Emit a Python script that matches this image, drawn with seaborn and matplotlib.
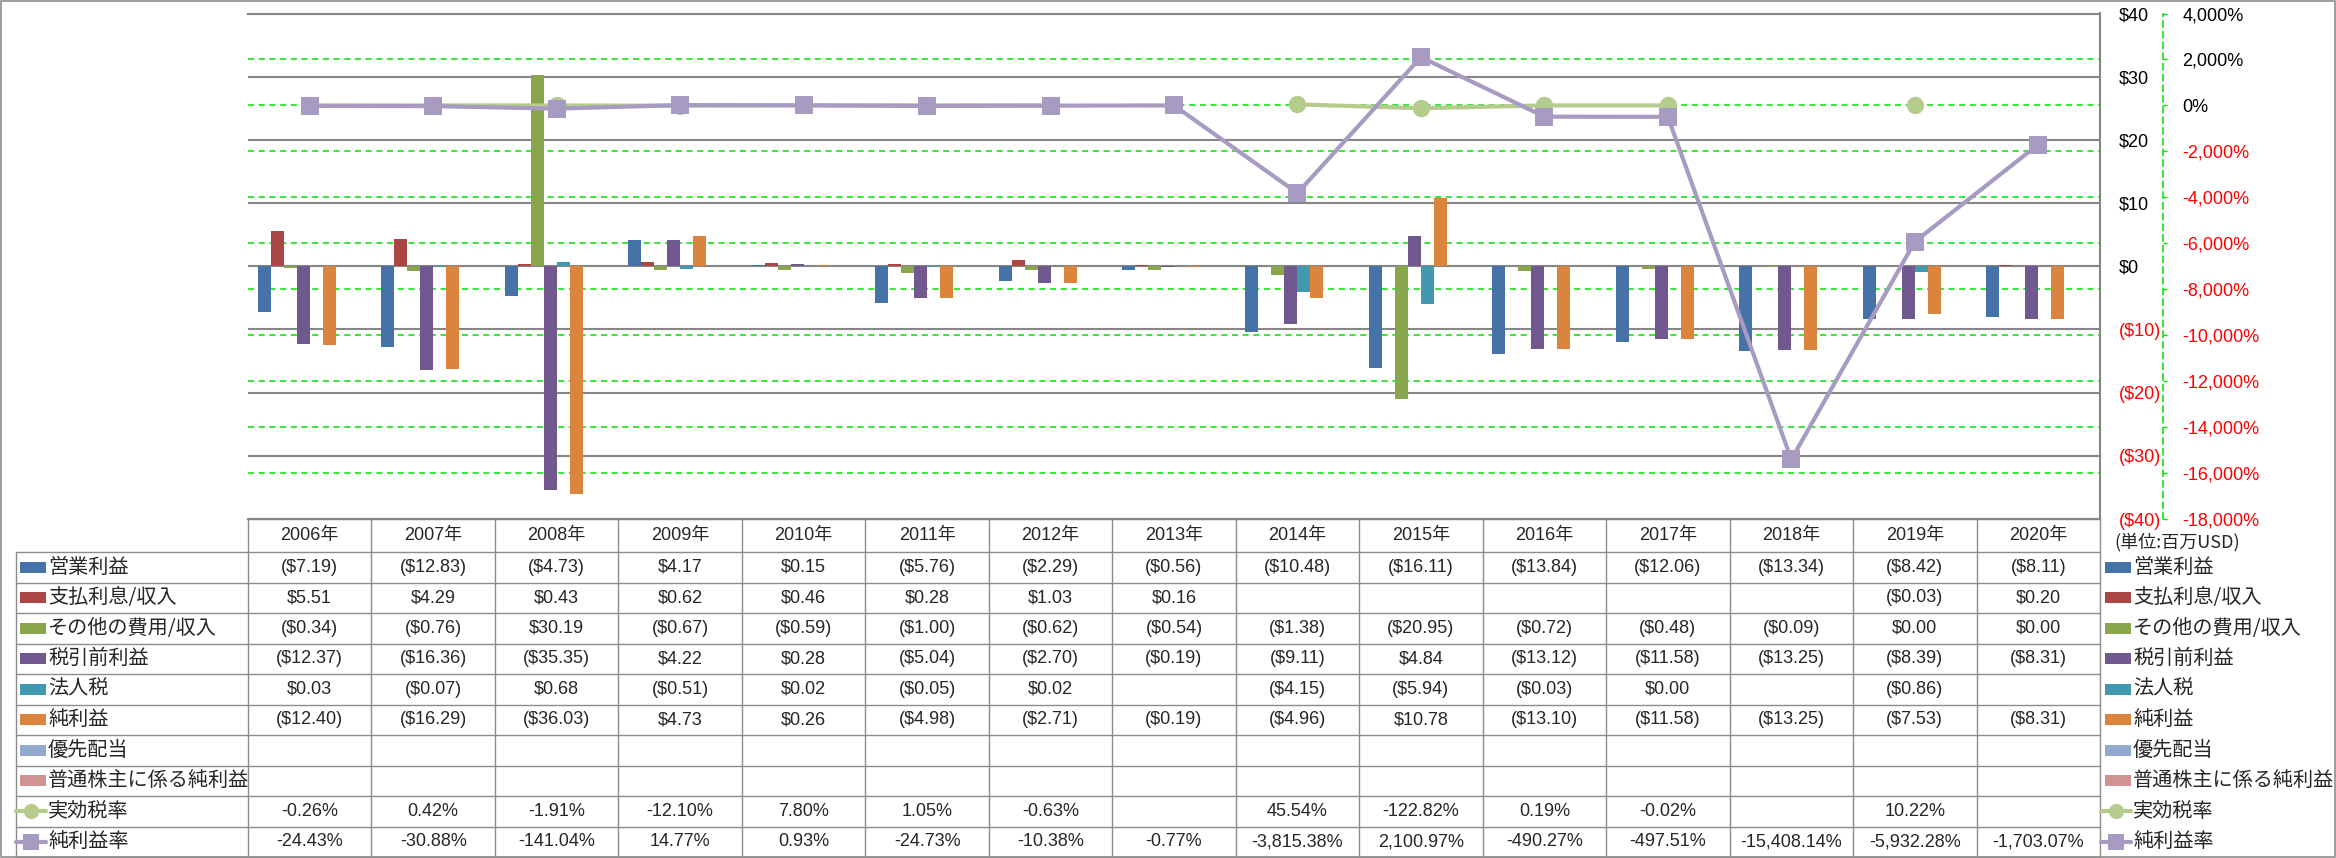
import numpy as np
import pandas as pd
import matplotlib
matplotlib.use("Agg")
import matplotlib.pyplot as plt
import seaborn as sns
from matplotlib.lines import Line2D
from matplotlib.patches import Rectangle

nan = np.nan

# ---------------- data ----------------
years = ["2006年", "2007年", "2008年", "2009年", "2010年", "2011年", "2012年", "2013年",
         "2014年", "2015年", "2016年", "2017年", "2018年", "2019年", "2020年"]

operating_income = [-7.19, -12.83, -4.73, 4.17, 0.15, -5.76, -2.29, -0.56,
                    -10.48, -16.11, -13.84, -12.06, -13.34, -8.42, -8.11]
interest = [5.51, 4.29, 0.43, 0.62, 0.46, 0.28, 1.03, 0.16,
            nan, nan, nan, nan, nan, -0.03, 0.20]
other_exp = [-0.34, -0.76, 30.19, -0.67, -0.59, -1.00, -0.62, -0.54,
             -1.38, -20.95, -0.72, -0.48, -0.09, 0.00, 0.00]
pretax = [-12.37, -16.36, -35.35, 4.22, 0.28, -5.04, -2.70, -0.19,
          -9.11, 4.84, -13.12, -11.58, -13.25, -8.39, -8.31]
income_tax = [0.03, -0.07, 0.68, -0.51, 0.02, -0.05, 0.02, nan,
              -4.15, -5.94, -0.03, 0.00, nan, -0.86, nan]
net_income = [-12.40, -16.29, -36.03, 4.73, 0.26, -4.98, -2.71, -0.19,
              -4.96, 10.78, -13.10, -11.58, -13.25, -7.53, -8.31]
preferred_div = [nan, nan, nan, nan, nan, nan, nan, nan,
                 nan, nan, nan, nan, nan, nan, nan]
common_net = [nan, nan, nan, nan, nan, nan, nan, nan,
              nan, nan, nan, nan, nan, nan, nan]
eff_tax_rate = [-0.26, 0.42, -1.91, -12.10, 7.80, 1.05, -0.63, nan,
                45.54, -122.82, 0.19, -0.02, nan, 10.22, nan]
net_margin = [-24.43, -30.88, -141.04, 14.77, 0.93, -24.73, -10.38, -0.77,
              -3815.38, 2100.97, -490.27, -497.51, -15408.14, -5932.28, -1703.07]

bar_names = ["営業利益", "支払利息/収入", "その他の費用/収入", "税引前利益",
             "法人税", "純利益", "優先配当", "普通株主に係る純利益"]
bar_values = [operating_income, interest, other_exp, pretax,
              income_tax, net_income, preferred_div, common_net]
bar_colors = ["#4572A7", "#AA4643", "#89A54E", "#71588F",
              "#4198AF", "#DB843D", "#93A9CF", "#D19392"]
line_names = ["実効税率", "純利益率"]
line_values = [eff_tax_rate, net_margin]
line_colors = ["#B5CC8E", "#A89BC2"]
line_markers = ["o", "s"]

usd_ticks = [-40, -30, -20, -10, 0, 10, 20, 30, 40]
pct_ticks = [-18000, -16000, -14000, -12000, -10000, -8000, -6000, -4000,
             -2000, 0, 2000, 4000]
unit_label = "(単位:百万USD)"

# ---------------- helpers ----------------
def fmt_money(v):
    if v is None or (isinstance(v, float) and np.isnan(v)):
        return ""
    s = f"${abs(v):,.2f}" if abs(v) >= 0.005 else "$0.00"
    return f"({s})" if v < -0.004 else s


def fmt_pct(v):
    if v is None or (isinstance(v, float) and np.isnan(v)):
        return ""
    return f"{v:,.2f}%"


def fmt_usd_tick(v):
    return f"(${abs(v)})" if v < 0 else f"${v}"


def fmt_pct_tick(v):
    return f"{v:,}%"


# ---------------- figure ----------------
sns.set_theme(style="white")
NUM_FONT = ["Liberation Sans", "Noto Sans CJK JP"]
JP_FONT = ["Noto Sans CJK JP", "DejaVu Sans"]
plt.rcParams["font.family"] = NUM_FONT

W, H = 2336, 858
DPI = 100
fig = plt.figure(figsize=(W / DPI, H / DPI), dpi=DPI, facecolor="white")

L, R, T, B = 248, 2100, 13.5, 519
rect = [L / W, 1 - B / H, (R - L) / W, (B - T) / H]

GRID_GRAY = "#868686"
GREEN = "#00E000"
RED = "#FF0000"
TABLE_GRAY = "#8C8C8C"
NUM_SIZE = 13
TICK_SIZE = 13
JP_SIZE = 14.5

# bottom axes: percent scale, green dashed grid, right axis
ax2 = fig.add_axes(rect)
ax2.set_zorder(1)
ax2.set_facecolor("white")
ax2.set_xlim(-0.5, 14.5)
ax2.set_ylim(-18000, 4000)
ax2.set_yticks(pct_ticks)
ax2.set_yticklabels([fmt_pct_tick(v) for v in pct_ticks])
ax2.yaxis.tick_right()
ax2.grid(axis="y", color=GREEN, linestyle=(0, (4, 3)), linewidth=1.1)
ax2.grid(axis="x", visible=False)
ax2.set_xticks([])
for s in ["left", "top", "bottom"]:
    ax2.spines[s].set_visible(False)
ax2.spines["right"].set_position(("outward", 63 * 72 / DPI))
ax2.spines["right"].set_color(GREEN)
ax2.spines["right"].set_linestyle((0, (4, 3)))
ax2.spines["right"].set_linewidth(1.1)
ax2.tick_params(axis="y", which="both", direction="out", length=3, width=1.0,
                color=GREEN, pad=11, labelsize=TICK_SIZE, right=True, left=False)
for v, lab in zip(pct_ticks, ax2.get_yticklabels()):
    lab.set_color(RED if v < 0 else "black")

# middle axes: bars (USD scale)
ax1 = fig.add_axes(rect)
ax1.set_zorder(2)
ax1.patch.set_visible(False)

rows = []
for name, vals in zip(bar_names, bar_values):
    for yr, v in zip(years, vals):
        rows.append({"year": yr, "series": name, "value": v})
df_bars = pd.DataFrame(rows)

sns.barplot(data=df_bars, x="year", y="value", hue="series",
            order=years, hue_order=bar_names,
            palette=dict(zip(bar_names, bar_colors)),
            width=104 / 123.47, gap=0, saturation=1, errorbar=None,
            linewidth=0, legend=False, ax=ax1)

ax1.set_xlim(-0.5, 14.5)
ax1.set_ylim(-40, 40)
ax1.set_yticks(usd_ticks)
ax1.set_yticklabels([fmt_usd_tick(v) for v in usd_ticks])
ax1.yaxis.tick_right()
ax1.tick_params(axis="y", length=0, pad=19 * 72 / DPI, labelsize=TICK_SIZE,
                right=True, left=False)
for v, lab in zip(usd_ticks, ax1.get_yticklabels()):
    lab.set_color(RED if v < 0 else "black")
ax1.set_axisbelow(True)
ax1.grid(axis="y", color=GRID_GRAY, linewidth=1.5)
ax1.grid(axis="x", visible=False)
ax1.tick_params(axis="x", length=0, labelbottom=False)
ax1.set_xlabel("")
ax1.set_ylabel("")
ax1.spines["left"].set_visible(False)
for s in ["top", "right", "bottom"]:
    ax1.spines[s].set_visible(True)
    ax1.spines[s].set_color(GRID_GRAY)
    ax1.spines[s].set_linewidth(1.5)

# top axes: lines (percent scale)
ax3 = fig.add_axes(rect)
ax3.set_zorder(3)
ax3.patch.set_visible(False)
xpos = np.arange(len(years))
for name, vals, col, mk in zip(line_names, line_values, line_colors, line_markers):
    arr = np.array(vals, dtype=float)
    seg = np.cumsum(np.isnan(arr))
    dfl = pd.DataFrame({"x": xpos, "y": arr, "seg": seg}).dropna()
    sns.lineplot(data=dfl, x="x", y="y", units="seg", estimator=None,
                 color=col, linewidth=3.0, marker=mk, markersize=12.5,
                 markeredgewidth=0, markerfacecolor=col, sort=True,
                 legend=False, ax=ax3)
ax3.set_xlim(-0.5, 14.5)
ax3.set_ylim(-18000, 4000)
ax3.axis("off")

# ---------------- data table ----------------
def fx(px):
    return px / W


def fy(py):
    return 1 - py / H


def hline(x0, x1, y, color=TABLE_GRAY, lw=1.0):
    fig.add_artist(Line2D([fx(x0), fx(x1)], [fy(y), fy(y)],
                          transform=fig.transFigure, color=color, lw=lw))


def vline(x, y0, y1, color=TABLE_GRAY, lw=1.0):
    fig.add_artist(Line2D([fx(x), fx(x)], [fy(y0), fy(y1)],
                          transform=fig.transFigure, color=color, lw=lw))


colw = (R - L) / len(years)
head_top, head_bot = 519, 552
row_h = 30.5
all_names = bar_names + line_names
n_rows = len(all_names)
table_bot = head_bot + n_rows * row_h

hline(L, R, head_top)
for k in range(n_rows + 1):
    hline(16, R, head_bot + k * row_h)
vline(16, head_bot, table_bot)
for j in range(len(years) + 1):
    vline(L + j * colw, head_top, table_bot)

for j, yr in enumerate(years):
    fig.text(fx(L + (j + 0.5) * colw), fy((head_top + head_bot) / 2), yr,
             ha="center", va="center", fontsize=NUM_SIZE, family=NUM_FONT)

row_texts = [[fmt_money(v) for v in vals] for vals in bar_values] + \
            [[fmt_pct(v) for v in vals] for vals in line_values]
for i, texts in enumerate(row_texts):
    yc = head_bot + (i + 0.5) * row_h
    for j, t in enumerate(texts):
        if t:
            fig.text(fx(L + (j + 0.5) * colw), fy(yc), t, ha="center",
                     va="center", fontsize=NUM_SIZE, family=NUM_FONT)


def legend_key(x0, yc, idx):
    # x0: left of key (pixels)
    if idx < len(bar_names):
        fig.add_artist(Rectangle((fx(x0), fy(yc + 5.5)), 26 / W, 11 / H,
                                 transform=fig.transFigure,
                                 facecolor=bar_colors[idx], edgecolor="none"))
    else:
        li = idx - len(bar_names)
        fig.add_artist(Line2D([fx(x0 - 4), fx(x0 + 26)], [fy(yc), fy(yc)],
                              transform=fig.transFigure,
                              color=line_colors[li], lw=3.0))
        fig.add_artist(Line2D([fx(x0 + 11)], [fy(yc)],
                              transform=fig.transFigure, linestyle="none",
                              marker=line_markers[li], markersize=11,
                              markeredgewidth=0,
                              markerfacecolor=line_colors[li]))


for i, name in enumerate(all_names):
    yc = head_bot + (i + 0.5) * row_h
    legend_key(20, yc, i)
    fig.text(fx(48), fy(yc), name, ha="left", va="center",
             fontsize=JP_SIZE, family=JP_FONT)
    legend_key(2105, yc, i)
    fig.text(fx(2133), fy(yc), name, ha="left", va="center",
             fontsize=JP_SIZE, family=JP_FONT)

fig.text(fx(2114), fy(542), unit_label, ha="left", va="center",
         fontsize=13, family=JP_FONT)

# chart border
fig.add_artist(Rectangle((fx(1), fy(857)), (2334) / W, (856) / H,
                         transform=fig.transFigure, facecolor="none",
                         edgecolor=TABLE_GRAY, lw=1.2))

fig.savefig("out.png", dpi=DPI, facecolor="white")
